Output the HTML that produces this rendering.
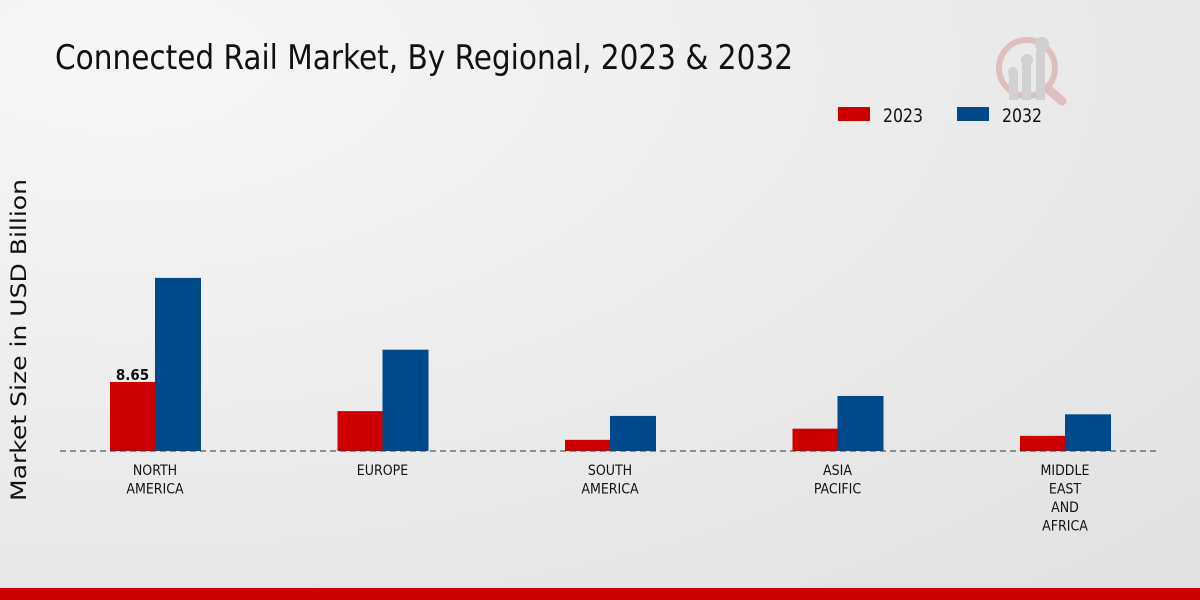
<!DOCTYPE html>
<html><head><meta charset="utf-8"><style>
html,body{margin:0;padding:0;width:1200px;height:600px;overflow:hidden}
svg{display:block;font-family:"DejaVu Sans Condensed","DejaVu Sans",sans-serif;font-stretch:condensed}
</style></head><body>
<svg id="c" width="1200" height="600" viewBox="0 0 1200 600">
<defs><radialGradient id="bg" cx="0.1" cy="0.1" r="1.2"><stop offset="0" stop-color="#f7f7f7"/><stop offset="1" stop-color="#e2e2e3"/></radialGradient></defs>
<rect width="1200" height="600" fill="url(#bg)"/>
<rect y="588" width="1200" height="12" fill="#cc0000"/>
<text x="55" y="69" font-size="34" textLength="738" lengthAdjust="spacingAndGlyphs" fill="#111">Connected Rail Market, By Regional, 2023 &amp; 2032</text>
<g opacity="0.25">
<circle cx="1027" cy="68" r="28" fill="none" stroke="#c04040" stroke-width="6"/>
<line x1="1047" y1="88" x2="1062" y2="101" stroke="#c04040" stroke-width="9" stroke-linecap="round"/>
<rect x="1009" y="72" width="9" height="28" fill="#888"/><rect x="1022" y="60" width="9" height="40" fill="#888"/><rect x="1036" y="50" width="9" height="50" fill="#888"/>
<circle cx="1013" cy="72" r="5" fill="#888"/><circle cx="1027" cy="60" r="6" fill="#888"/><circle cx="1042" cy="44" r="7" fill="#888"/>
</g>
<g>
<rect x="838" y="107" width="32" height="14" fill="#cc0000"/>
<text x="883" y="122" font-size="19" textLength="40" lengthAdjust="spacingAndGlyphs" fill="#111">2023</text>
<rect x="957" y="107" width="32" height="14" fill="#004a8c"/>
<text x="1002" y="122" font-size="19" textLength="40" lengthAdjust="spacingAndGlyphs" fill="#111">2032</text>
</g>
<text transform="translate(26,340) rotate(-90)" text-anchor="middle" font-family="DejaVu Sans,sans-serif" font-stretch="normal" font-size="21" textLength="322" lengthAdjust="spacingAndGlyphs" fill="#111">Market Size in USD Billion</text>
<g id="bars"></g>
<line x1="60" y1="451" x2="1160" y2="451" stroke="#333" stroke-dasharray="6,4"/>
<g id="labels"></g>
</svg>
<script>
const categories=[["NORTH","AMERICA"],["EUROPE"],["SOUTH","AMERICA"],["ASIA","PACIFIC"],["MIDDLE","EAST","AND","AFRICA"]];
const values2023=[8.65,5.0,1.4,2.8,1.9];
const values2032=[21.7,12.7,4.4,6.9,4.6];
const ns="http://www.w3.org/2000/svg";
const base=451, scale=69/8.65, x0=155, step=227.5, bw=45;
const yPx=v=>base-v*scale;
const xC=i=>x0+i*step;
const bars=document.getElementById('bars'), labels=document.getElementById('labels');
function mk(t,a,p){const e=document.createElementNS(ns,t);for(const k in a)e.setAttribute(k,a[k]);p.appendChild(e);return e;}
categories.forEach((c,i)=>{
  const r=mk('rect',{x:xC(i)-bw,y:yPx(values2023[i]),width:bw,height:base-yPx(values2023[i]),fill:'#cc0000'},bars);
  
  
  const b=mk('rect',{x:xC(i),y:yPx(values2032[i]),width:bw+1,height:base-yPx(values2032[i]),fill:'#004a8c'},bars);
  
  
  c.forEach((ln,j)=>{
    const t=mk('text',{x:xC(i),y:475+j*18.5,'text-anchor':'middle','font-size':'14',fill:'#111'},labels);
    t.textContent=ln;
    
    
  });
});
const v=mk('text',{x:xC(0)-bw/2,y:yPx(values2023[0])-2,'text-anchor':'middle','font-size':'15','font-weight':'bold',fill:'#111'},labels);
v.textContent=values2023[0].toFixed(2);


</script>
</body></html>
